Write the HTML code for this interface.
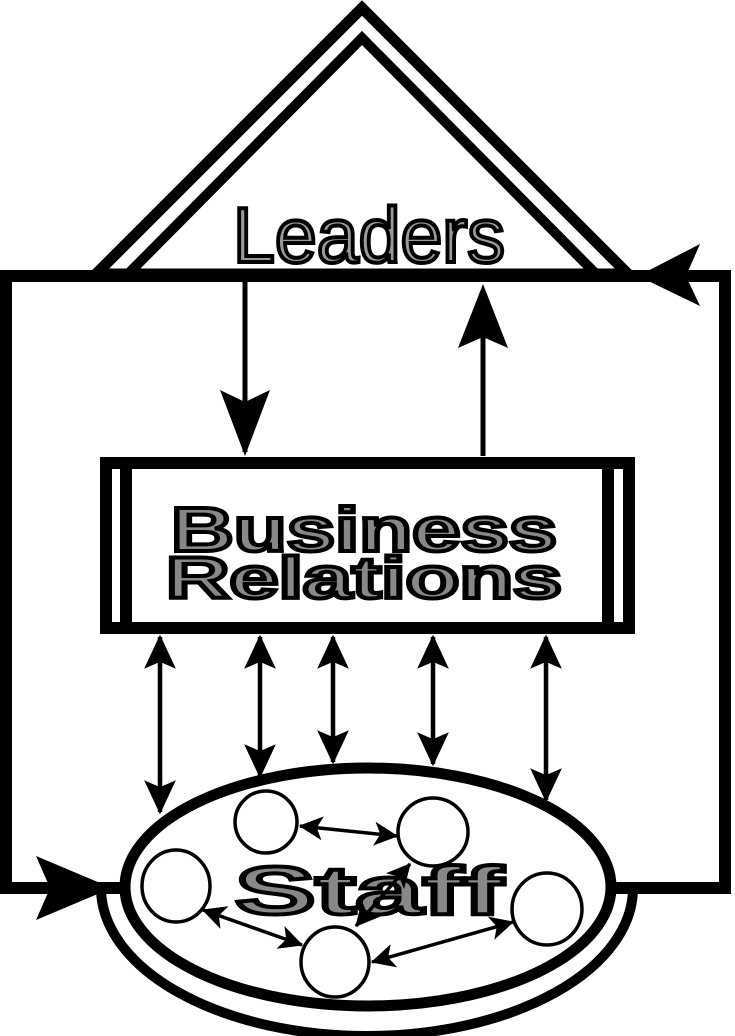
<!DOCTYPE html>
<html><head><style>html,body{margin:0;padding:0;background:#fff}svg{display:block}</style></head>
<body>
<svg width="735" height="1036" viewBox="0 0 735 1036" xmlns="http://www.w3.org/2000/svg">
<defs>
<marker id="ah" viewBox="0 0 30 30" refX="28" refY="15" markerWidth="36" markerHeight="34" markerUnits="userSpaceOnUse" orient="auto-start-reverse">
<path d="M0,1 L30,15 L0,29 L6,15 Z" fill="#000"/>
</marker>
<marker id="as" viewBox="0 0 20 20" refX="19" refY="10" markerWidth="26" markerHeight="24" markerUnits="userSpaceOnUse" orient="auto-start-reverse">
<path d="M0,0 L20,10 L0,20 L5,10 Z" fill="#000"/>
</marker>
</defs>
<polygon points="362,8 96,274 628,274" fill="none" stroke="#000" stroke-width="11" stroke-linejoin="miter"/>
<polygon points="362,38 128,274 596,274" fill="none" stroke="#000" stroke-width="10"/>
<rect x="6" y="276" width="719" height="612" fill="none" stroke="#000" stroke-width="12"/>
<path d="M638,276 L700,244 L686,276 L700,306 Z" fill="#000"/>
<path d="M112,888 L36,856 L50,888 L36,920 Z" fill="#000"/>
<text x="369" y="262" font-family="Liberation Sans, sans-serif" font-size="78" fill="#999" stroke="#000" stroke-width="4" text-anchor="middle" textLength="272" lengthAdjust="spacingAndGlyphs">Leaders</text>
<line x1="245" y1="282" x2="245" y2="452" stroke="#000" stroke-width="5"/>
<path d="M245,456 L220,390 L245,402 L270,390 Z" fill="#000"/>
<line x1="483" y1="456" x2="483" y2="300" stroke="#000" stroke-width="5"/>
<path d="M483,284 L458,348 L483,337 L508,348 Z" fill="#000"/>
<rect x="106" y="463" width="523" height="165" fill="#fff" stroke="#000" stroke-width="12"/>
<line x1="126" y1="465" x2="126" y2="625" stroke="#000" stroke-width="12"/>
<line x1="608" y1="465" x2="608" y2="625" stroke="#000" stroke-width="12"/>
<text x="364" y="551" font-family="Liberation Sans, sans-serif" font-weight="bold" font-size="62" fill="#888" stroke="#000" stroke-width="4" text-anchor="middle" textLength="386" lengthAdjust="spacingAndGlyphs">Business</text>
<text x="364" y="598" font-family="Liberation Sans, sans-serif" font-weight="bold" font-size="58" fill="#888" stroke="#000" stroke-width="4" text-anchor="middle" textLength="396" lengthAdjust="spacingAndGlyphs">Relations</text>
<g stroke="#000" stroke-width="4.5" marker-start="url(#ah)" marker-end="url(#ah)">
<line x1="160" y1="637" x2="160" y2="812"/>
<line x1="260" y1="637" x2="260" y2="776"/>
<line x1="333" y1="637" x2="333" y2="762"/>
<line x1="433" y1="637" x2="433" y2="764"/>
<line x1="546" y1="637" x2="546" y2="800"/>
</g>
<path d="M101,888 A266,148 0 0 0 633,888" fill="none" stroke="#000" stroke-width="10"/>
<ellipse cx="368" cy="887" rx="243" ry="119" fill="#fff" stroke="#000" stroke-width="11"/>
<g fill="#fff" stroke="#000" stroke-width="3.5">
<ellipse cx="266" cy="822" rx="31" ry="31"/>
<ellipse cx="433" cy="832" rx="35" ry="34"/>
<ellipse cx="176" cy="886" rx="34" ry="36"/>
<ellipse cx="335" cy="962" rx="34" ry="35"/>
<ellipse cx="547" cy="909" rx="35" ry="36"/>
</g>
<text x="369" y="914" font-family="Liberation Sans, sans-serif" font-weight="bold" font-size="68" fill="#888" stroke="#000" stroke-width="4" text-anchor="middle" textLength="268" lengthAdjust="spacingAndGlyphs">Staff</text>
<g stroke="#000" stroke-width="3.5" marker-start="url(#as)" marker-end="url(#as)">
<line x1="300" y1="826" x2="397" y2="836"/>
<line x1="203" y1="910" x2="302" y2="945"/>
<line x1="372" y1="962" x2="513" y2="922"/>
<line x1="356" y1="926" x2="410" y2="864"/>
</g>
</svg>
</body></html>
